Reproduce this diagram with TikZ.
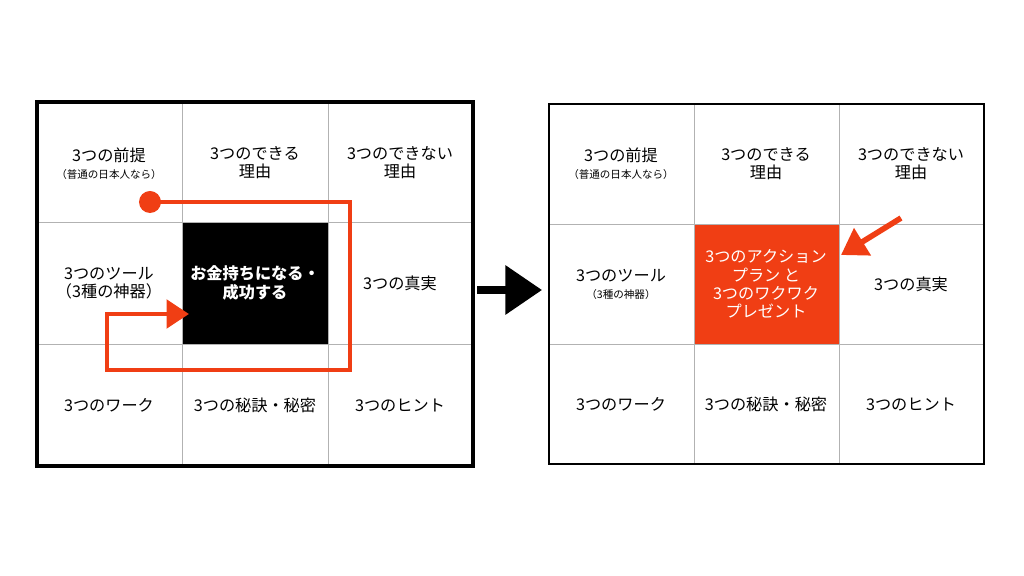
\documentclass[tikz,border=0pt]{standalone}
\usepackage{fontspec}
\setmainfont{Noto Sans CJK JP}
\usetikzlibrary{arrows.meta}
\definecolor{ored}{RGB}{240,62,20}
\tikzset{
  lbl/.style={align=center, font=\fontsize{11.5}{13}\selectfont, inner sep=1pt},
  sub/.style={font=\fontsize{7}{8}\selectfont}
}
\begin{document}
\begin{tikzpicture}[x=0.025cm, y=-0.025cm]
\useasboundingbox (0,0) rectangle (1024,576);

% left grid
\fill (182,222) rectangle (328,344);
\draw[gray!60, line width=0.5pt] (182,102) -- (182,466) (328,102) -- (328,466)
  (37,222) -- (473,222) (37,344) -- (473,344);
\draw[line width=2.2pt] (37,102) rectangle (473,466);

\node[lbl] (l11) at (109,164) {3つの前提\\[-1pt]{\fontsize{7.5}{8}\selectfont（普通の日本人なら）}};
\node[lbl] (l12) at (255,163) {3つのできる\\理由};
\node[lbl] (l13) at (400,163) {3つのできない\\理由};
\node[lbl] (l21) at (109,283) {3つのツール\\（3種の神器）};
\node[lbl, text=white, font=\bfseries\fontsize{11.5}{13}\selectfont] (l22) at (255,283) {お金持ちになる・\\成功する};
\node[lbl] (l23) at (400,283) {3つの真実};
\node[lbl] (l31) at (109,405) {3つのワーク};
\node[lbl] (l32) at (255,405) {3つの秘訣・秘密};
\node[lbl] (l33) at (400,405) {3つのヒント};

% red route
\node[circle, fill=ored, inner sep=0pt, minimum size=0.55cm] (dot) at (150,202) {};
\coordinate (r1) at (350,202);
\coordinate (r2) at (350,370);
\coordinate (r3) at (107,370);
\coordinate (r4) at (107,314);
\coordinate (tip) at (189,314);
\draw[ored, line width=3.5pt, -{Triangle[length=16pt, width=20pt]}]
  (dot.center) -- (r1) -- (r2) -- (r3) -- (r4) -- (tip);

% middle arrow
\coordinate (m0) at (477,290);
\coordinate (m1) at (542,290);
\draw[line width=5pt, -{Triangle[length=26pt, width=34pt]}] (m0) -- (m1);

% right grid
\fill[ored] (694,224) rectangle (839,344);
\draw[gray!60, line width=0.5pt] (694,104) -- (694,464) (839,104) -- (839,464)
  (549,224) -- (984,224) (549,344) -- (984,344);
\draw[line width=0.8pt] (549,104) rectangle (984,464);

\node[lbl] (r11) at (621,164) {3つの前提\\[-1pt]{\fontsize{7.5}{8}\selectfont（普通の日本人なら）}};
\node[lbl] (r12) at (766,164) {3つのできる\\理由};
\node[lbl] (r13) at (911,164) {3つのできない\\理由};
\node[lbl] (r21) at (621,284) {3つのツール\\[-1pt]{\fontsize{7.5}{8}\selectfont（3種の神器）}};
\node[lbl, text=white] (r22) at (766,284) {3つのアクション\\プラン と\\3つのワクワク\\プレゼント};
\node[lbl] (r23) at (911,284) {3つの真実};
\node[lbl] (r31) at (621,404) {3つのワーク};
\node[lbl] (r32) at (766,404) {3つの秘訣・秘密};
\node[lbl] (r33) at (911,404) {3つのヒント};

\coordinate (p0) at (901,218);
\coordinate (p1) at (841,255);
\draw[ored, line width=4pt, -{Triangle[length=18pt, width=22pt]}] (p0) -- (p1);
\end{tikzpicture}
\end{document}
